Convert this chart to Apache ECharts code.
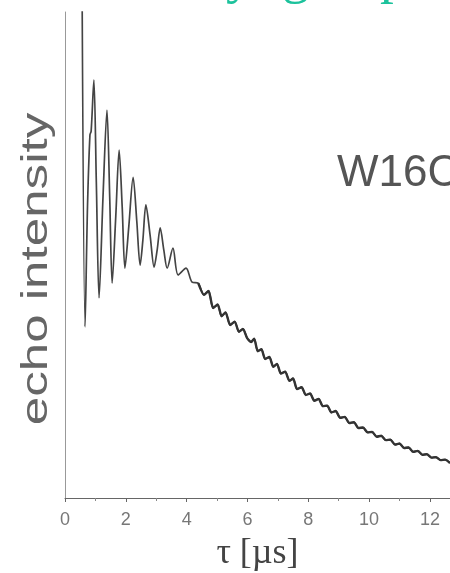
<!DOCTYPE html>
<html>
<head>
<meta charset="utf-8">
<title>echo intensity</title>
<script src="https://cdn.jsdelivr.net/npm/echarts@6.0.0/dist/echarts.min.js"></script>
<style>
  html, body { margin: 0; padding: 0; background: #fff; }
  #chart { width: 450px; height: 573px; }
</style>
</head>
<body>
<div id="chart"></div>
<script>
// values (tau in µs, echo intensity in arbitrary units 0..100)
var tau = [
  0.55, 0.66, 0.74, 0.82, 0.86, 0.95, 1.03, 1.12, 1.25, 1.38,
  1.47, 1.55, 1.67, 1.78, 1.88, 1.97, 2.10, 2.24, 2.36, 2.47,
  2.56, 2.66, 2.80, 2.93, 3.03, 3.13, 3.25, 3.36, 3.55, 3.72,
  3.98, 4.18, 4.38, 4.57, 4.72, 4.87, 5.02, 5.15, 5.28, 5.43,
  5.58, 5.72, 5.85, 5.99, 6.12, 6.22, 6.34, 6.46, 6.58, 6.72,
  6.85, 6.97, 7.10, 7.24, 7.38, 7.50, 7.63, 7.78, 7.92, 8.06,
  8.20, 8.34, 8.48, 8.62, 8.76, 8.90, 9.05, 9.20, 9.35, 9.50,
  9.65, 9.80, 9.95, 10.10, 10.25, 10.40, 10.55, 10.70, 10.85, 11.00,
  11.15, 11.30, 11.45, 11.60, 11.75, 11.90, 12.05, 12.20, 12.35, 12.50,
  12.66
];
var echo = [
  120, 35.2, 60, 74.7, 75.5, 86.0, 65, 41.2, 62, 79.8,
  62, 44.2, 58, 71.6, 60, 47.3, 56, 66.0, 57, 47.9,
  53, 60.3, 54, 47.5, 51, 55.6, 51, 47.3, 51.4, 45.9,
  47.3, 44.4, 44.2, 41.8, 42.6, 39.1, 39.8, 37.4, 38.2, 35.6,
  36.3, 34.2, 34.8, 32.9, 32.1, 32.8, 30.2, 30.6, 28.6, 29.0,
  27.0, 27.6, 25.6, 26.0, 24.1, 24.6, 22.4, 22.8, 21.2, 21.5,
  20.0, 20.4, 18.9, 19.0, 17.6, 17.9, 16.5, 16.7, 15.4, 15.6,
  14.4, 14.5, 13.5, 13.6, 12.6, 12.8, 11.9, 12.0, 11.0, 11.2,
  10.3, 10.4, 9.5, 9.7, 8.9, 9.0, 8.3, 8.4, 7.8, 7.9,
  7.2
];
var xTicks = [0, 2, 4, 6, 8, 10, 12];

var points = tau.map(function (t, i) { return [t, echo[i]]; });
// the noisy tail is drawn a bit heavier, as in the scan
var tail = points.filter(function (p) { return p[0] >= 4.3; });

var chartDom = document.getElementById('chart');
var myChart = echarts.init(chartDom, null, { renderer: 'canvas' });

var option = {
  animation: false,
  backgroundColor: '#fff',
  grid: {
    left: 65,
    right: 0,
    top: 12,
    bottom: 75,
    containLabel: false,
    outerBoundsMode: 'none'
  },
  xAxis: {
    type: 'value',
    min: xTicks[0],
    max: 12.66,
    interval: 2,
    name: 'τ [µs]',
    nameLocation: 'middle',
    nameGap: 38,
    nameTextStyle: {
      fontFamily: 'Liberation Serif',
      fontSize: 36,
      color: '#444'
    },
    axisLine: { show: true, onZero: false, lineStyle: { color: '#666', width: 1 } },
    axisTick: { show: true, length: 4, lineStyle: { color: '#666' } },
    minorTick: { show: true, splitNumber: 2, length: 3, lineStyle: { color: '#888' } },
    axisLabel: {
      margin: 13,
      fontFamily: 'Liberation Sans',
      fontSize: 18,
      color: '#777',
      showMaxLabel: false
    },
    splitLine: { show: false }
  },
  yAxis: {
    type: 'value',
    min: 0,
    max: 100,
    axisLine: { show: true, lineStyle: { color: '#999', width: 1 } },
    axisTick: { show: false },
    axisLabel: { show: false },
    splitLine: { show: false }
  },
  graphic: [
    {
      type: 'text',
      x: 37,
      y: 269,
      rotation: Math.PI / 2,
      scaleX: 1.42,
      style: {
        text: 'echo intensity',
        font: '36px "Liberation Sans"',
        fill: '#666',
        textAlign: 'center',
        textVerticalAlign: 'middle'
      }
    },
    {
      type: 'text',
      x: 337,
      y: 174,
      style: {
        text: 'W16C',
        font: '44px "Liberation Sans"',
        fill: '#555',
        textAlign: 'left',
        textVerticalAlign: 'middle'
      }
    },
    // teal watermark letters cut off at the top of the scan
    { type: 'text', x: 226, y: 5, style: { text: 'y', font: '55px "Liberation Serif"', fill: '#1cc29c', textVerticalAlign: 'bottom' } },
    { type: 'text', x: 282, y: 5, style: { text: 'g', font: '55px "Liberation Serif"', fill: '#1cc29c', textVerticalAlign: 'bottom' } },
    { type: 'text', x: 380, y: 5, style: { text: 'p', font: '55px "Liberation Serif"', fill: '#1cc29c', textVerticalAlign: 'bottom' } }
  ],
  series: [
    {
      name: 'echo',
      type: 'line',
      data: points,
      showSymbol: false,
      smooth: 0.3,
      clip: true,
      lineStyle: { color: '#444', width: 1.7 }
    },
    {
      name: 'echo tail',
      type: 'line',
      data: tail,
      showSymbol: false,
      smooth: 0.2,
      clip: true,
      lineStyle: { color: '#333', width: 2.4 }
    }
  ]
};
option && myChart.setOption(option);
</script>
</body>
</html>
